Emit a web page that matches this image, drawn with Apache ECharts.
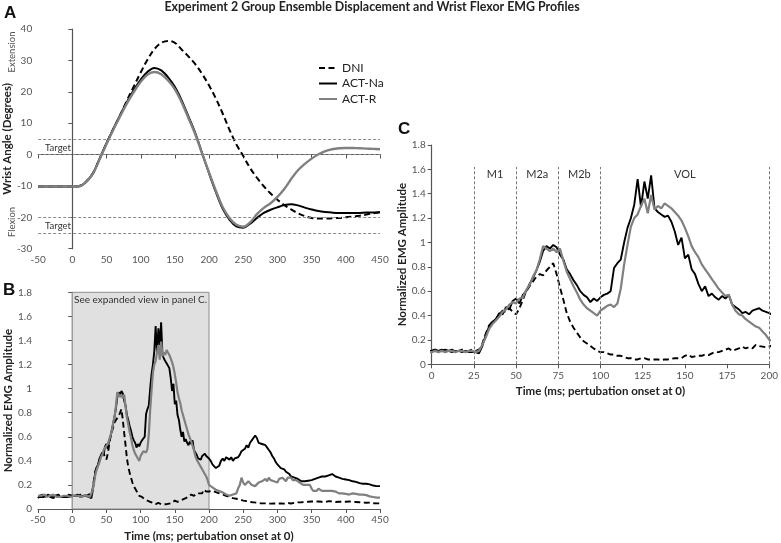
<!DOCTYPE html>
<html><head><meta charset="utf-8">
<script src="https://cdn.jsdelivr.net/npm/echarts@6/dist/echarts.min.js"></script>
<style>html,body{margin:0;padding:0;background:#fff}#c{width:781px;height:543px}</style>
</head><body><div id="c"></div>
<script>
// ---------- Panel A: wrist angle (degrees), t = -50..450 step 10 ----------
const angleStart = -50, angleStep = 10;
const angleDNI = [-10.2,-10.2,-10.2,-10.2,-10.2,-10.2,-10.0,-8.7,-6.0,-1.2,
  3.6,8.2,12.6,17.3,21.8,26.2,30.3,33.6,35.6,36.2,
  35.6,33.4,31.2,28.7,25.6,22.0,17.8,13.0,7.8,3.2,
  -0.5,-4.3,-7.4,-10.1,-12.4,-14.4,-16.1,-17.5,-18.7,-19.6,
  -20.2,-20.4,-20.4,-20.3,-20.2,-20.0,-19.8,-19.5,-19.1,-18.7,-18.4];
const angleNa = [-10.2,-10.2,-10.2,-10.2,-10.2,-10.2,-10.1,-8.7,-6.0,-1.2,
  3.6,8.2,12.6,16.8,20.6,23.9,26.4,27.6,26.8,24.6,
  21.5,17.2,12.0,6.7,0.3,-6.0,-12.0,-17.3,-20.8,-22.9,
  -23.3,-22.0,-20.2,-18.6,-17.6,-16.8,-16.1,-15.8,-16.2,-16.9,
  -17.5,-18.0,-18.3,-18.5,-18.6,-18.6,-18.6,-18.6,-18.5,-18.5,-18.4];
const angleR = [-10.2,-10.2,-10.2,-10.2,-10.2,-10.2,-10.1,-8.8,-6.1,-1.4,
  3.4,8.0,12.3,16.4,20.0,23.2,25.5,26.3,25.6,23.6,
  20.8,16.6,11.5,6.3,0.2,-5.8,-11.6,-16.8,-20.3,-22.4,
  -23.0,-21.6,-19.0,-17.0,-15.5,-13.5,-11.0,-7.8,-5.0,-3.0,
  -1.3,0.1,1.1,1.7,2.0,2.1,2.1,2.0,1.9,1.8,1.7];
const angleRefLines = [5, 0, -20, -25];
const targetLabels = [2.2, -22.7];

// ---------- EMG (normalized) ----------
// pre: t=-50..-2.5 step 2.5 ; early: t=0..200 step 2 ; late: t=202.5..450 step 2.5
const preDNI = [0.10,0.11,0.10,0.11,0.10,0.11,0.11,0.10,0.11,0.10,0.11,0.10,0.10,0.11,0.10,0.11,0.10,0.11,0.10,0.11];
const preNa  = [0.09,0.11,0.10,0.12,0.10,0.11,0.12,0.10,0.11,0.09,0.11,0.10,0.12,0.10,0.11,0.10,0.11,0.10,0.12,0.11];
const preR   = [0.11,0.10,0.11,0.11,0.12,0.10,0.11,0.11,0.10,0.12,0.11,0.10,0.11,0.10,0.11,0.11,0.10,0.11,0.11,0.10];

const earlyNa = [0.11,0.12,0.11,0.11,0.12,0.11,0.10,0.11,0.11,0.10,
  0.11,0.10,0.10,0.10,0.09,0.15,0.24,0.31,0.35,0.37,
  0.42,0.41,0.47,0.45,0.52,0.54,0.50,0.57,0.60,0.66,
  0.71,0.77,0.84,0.93,0.97,0.95,0.98,0.96,0.90,0.86,
  0.78,0.74,0.69,0.65,0.60,0.57,0.55,0.51,0.54,0.52,
  0.55,0.57,0.58,0.60,0.79,0.83,0.86,1.00,1.12,1.20,
  1.31,1.52,1.29,1.50,1.36,1.55,1.28,1.25,1.23,1.21,
  1.22,1.17,1.09,0.98,1.04,0.87,0.90,0.78,0.74,0.66,
  0.60,0.64,0.56,0.58,0.55,0.53,0.56,0.54,0.57,0.49,
  0.47,0.45,0.42,0.43,0.41,0.44,0.45,0.46,0.44,0.43,
  0.42];
const earlyR = [0.10,0.11,0.10,0.11,0.10,0.11,0.11,0.10,0.11,0.11,
  0.10,0.11,0.11,0.10,0.11,0.16,0.22,0.29,0.33,0.36,
  0.39,0.43,0.45,0.49,0.51,0.50,0.54,0.55,0.61,0.65,
  0.72,0.77,0.86,0.97,0.95,0.93,0.95,0.92,0.95,0.85,
  0.76,0.70,0.64,0.59,0.53,0.49,0.46,0.44,0.42,0.40,
  0.44,0.46,0.48,0.49,0.47,0.50,0.62,0.82,0.98,1.13,
  1.20,1.23,1.30,1.36,1.24,1.39,1.27,1.30,1.28,1.32,
  1.30,1.28,1.25,1.22,1.18,1.12,1.05,0.97,0.92,0.88,
  0.82,0.78,0.74,0.70,0.66,0.62,0.59,0.56,0.57,0.49,
  0.44,0.41,0.40,0.37,0.35,0.33,0.31,0.30,0.27,0.24,
  0.20];
const earlyDNI = [0.11,0.12,0.11,0.12,0.11,0.11,0.12,0.11,0.11,0.12,
  0.11,0.11,0.12,0.11,0.12,0.17,0.25,0.32,0.35,0.37,
  0.41,0.44,0.43,0.46,0.43,0.41,0.46,0.53,0.60,0.64,
  0.68,0.72,0.74,0.73,0.77,0.80,0.83,0.74,0.63,0.53,
  0.42,0.35,0.30,0.26,0.22,0.19,0.17,0.15,0.13,0.11,
  0.10,0.10,0.09,0.08,0.08,0.07,0.07,0.06,0.05,0.05,
  0.04,0.04,0.05,0.05,0.04,0.04,0.04,0.04,0.035,0.04,
  0.04,0.045,0.05,0.05,0.05,0.07,0.08,0.06,0.065,0.07,
  0.07,0.08,0.075,0.09,0.10,0.10,0.11,0.12,0.13,0.11,
  0.12,0.13,0.145,0.13,0.14,0.13,0.16,0.15,0.145,0.14,
  0.145];

const lateNa = [0.40,0.37,0.36,0.34,0.33,0.36,0.40,0.42,0.40,0.43,
  0.44,0.41,0.43,0.40,0.42,0.41,0.43,0.45,0.48,0.47,
  0.50,0.53,0.51,0.55,0.57,0.56,0.61,0.59,0.55,0.56,
  0.54,0.55,0.53,0.51,0.49,0.47,0.44,0.42,0.39,0.37,
  0.36,0.34,0.35,0.33,0.31,0.30,0.29,0.27,0.28,0.26,
  0.27,0.25,0.24,0.23,0.24,0.23,0.22,0.235,0.23,0.24,
  0.23,0.25,0.24,0.26,0.25,0.27,0.26,0.27,0.26,0.28,
  0.27,0.29,0.28,0.27,0.28,0.26,0.27,0.25,0.26,0.245,
  0.25,0.24,0.235,0.23,0.24,0.225,0.23,0.215,0.22,0.21,
  0.20,0.21,0.20,0.205,0.20,0.195,0.20,0.19,0.195,0.19];
const lateR = [0.19,0.18,0.17,0.16,0.155,0.15,0.14,0.137,0.13,0.12,
  0.115,0.11,0.11,0.12,0.115,0.13,0.17,0.20,0.26,0.22,
  0.20,0.21,0.23,0.22,0.20,0.21,0.19,0.20,0.22,0.21,
  0.23,0.22,0.25,0.23,0.26,0.24,0.25,0.23,0.24,0.22,
  0.25,0.24,0.26,0.25,0.23,0.26,0.25,0.26,0.24,0.25,
  0.24,0.23,0.22,0.21,0.20,0.21,0.20,0.19,0.20,0.17,
  0.15,0.16,0.15,0.17,0.16,0.15,0.16,0.15,0.16,0.15,
  0.14,0.15,0.14,0.145,0.14,0.13,0.14,0.13,0.135,0.125,
  0.13,0.12,0.125,0.13,0.12,0.125,0.115,0.12,0.125,0.12,
  0.11,0.115,0.11,0.105,0.11,0.10,0.105,0.095,0.10,0.095];
const lateDNI = [0.16,0.15,0.155,0.14,0.14,0.13,0.125,0.12,0.115,0.11,
  0.105,0.10,0.095,0.09,0.09,0.085,0.08,0.08,0.075,0.07,
  0.065,0.065,0.06,0.058,0.055,0.055,0.05,0.052,0.05,0.048,
  0.05,0.047,0.048,0.046,0.05,0.045,0.047,0.046,0.048,0.045,
  0.047,0.046,0.048,0.045,0.047,0.05,0.048,0.046,0.05,0.052,
  0.05,0.055,0.052,0.056,0.054,0.058,0.056,0.06,0.058,0.062,
  0.06,0.063,0.058,0.062,0.065,0.06,0.063,0.058,0.062,0.065,
  0.06,0.063,0.06,0.058,0.062,0.06,0.057,0.06,0.062,0.06,
  0.058,0.062,0.057,0.06,0.055,0.058,0.054,0.056,0.055,0.053,
  0.055,0.052,0.05,0.053,0.05,0.048,0.05,0.047,0.048,0.047];

const phaseBounds = [25, 50, 75, 100, 200];
const phaseNames = ['M1', 'M2a', 'M2b', 'VOL'];
const phaseCenters = [37.5, 62.5, 87.5, 150];

const seriesNames = ['DNI', 'ACT-Na', 'ACT-R'];
const titleText = 'Experiment 2 Group Ensemble Displacement and Wrist Flexor EMG Profiles';
const xName = 'Time (ms; pertubation onset at 0)';

// ---------- build ----------
function seq(start, step, n) { const a = []; for (let i = 0; i < n; i++) a.push(+(start + i * step).toFixed(3)); return a; }
function pairs(ts, vs) { return vs.map((v, i) => [ts[i], v]); }
const angleT = seq(angleStart, angleStep, angleDNI.length);
const preT = seq(-50, 2.5, preDNI.length);
const earlyT = seq(0, 2, earlyDNI.length);
const lateT = seq(202.5, 2.5, lateDNI.length);
function emg(pre, early, late) { return pairs(preT, pre).concat(pairs(earlyT, early), pairs(lateT, late)); }
const emgDNI = emg(preDNI, earlyDNI, lateDNI);
const emgNa = emg(preNa, earlyNa, lateNa);
const emgR = emg(preR, earlyR, lateR);

const FONT = 'Lato';
const styles = [
  { color: '#000', width: 2, type: [6, 3.5] },
  { color: '#000', width: 2, type: 'solid' },
  { color: '#808080', width: 2.4, type: 'solid' }
];
const axisLine = { show: true, lineStyle: { color: '#555', width: 1.2 } };
const axisTick = { show: true, length: 4, lineStyle: { color: '#555' } };
const axisLabel = { color: '#555', fontSize: 10, fontFamily: FONT, margin: 6 };
const axisNameStyle = { color: '#222', fontSize: 11.5, fontWeight: 'bold', fontFamily: FONT };
const emgFmt = v => String(Math.round(v * 10) / 10);

function xAx(grid, min, max, interval, name) {
  return { gridIndex: grid, type: 'value', min, max, interval, axisLine, axisTick, splitLine: { show: false },
    axisLabel: Object.assign({}, axisLabel),
    name: name || '', nameLocation: 'middle', nameGap: 21, nameTextStyle: axisNameStyle };
}
function yAx(grid, min, max, interval, name, gap, fmt) {
  return { gridIndex: grid, type: 'value', min, max, interval, axisLine, axisTick, splitLine: { show: false },
    axisLabel: Object.assign({}, axisLabel, fmt ? { formatter: fmt } : {}),
    name, nameLocation: 'middle', nameGap: gap, nameTextStyle: axisNameStyle };
}

const series = [];
// Panel A
[angleDNI, angleNa, angleR].forEach((vals, i) => {
  const s = { name: seriesNames[i], type: 'line', xAxisIndex: 0, yAxisIndex: 0, data: pairs(angleT, vals),
    symbol: 'none', smooth: 0.35, lineStyle: styles[i], itemStyle: { color: styles[i].color }, z: 3 };
  if (i === 0) {
    s.markLine = { silent: true, symbol: 'none', label: { show: false },
      lineStyle: { color: '#8a8a8a', type: [3, 2], width: 1 },
      data: angleRefLines.map(v => ({ yAxis: v })) };
    s.markPoint = { silent: true, symbol: 'circle', symbolSize: 0,
      label: { show: true, position: 'right', distance: 0, formatter: 'Target', color: '#333', fontSize: 9.5, fontFamily: FONT },
      data: targetLabels.map(v => ({ coord: [-40, v], value: 'Target' })) };
  }
  series.push(s);
});
// Panel B background area
series.push({ type: 'line', xAxisIndex: 1, yAxisIndex: 1, data: [], z: 1, silent: true,
  markArea: { silent: true, itemStyle: { color: '#e0e0e0', borderColor: '#8c8c8c', borderWidth: 1 },
    label: { show: true, position: 'insideTop', distance: 3, color: '#333', fontSize: 10, fontFamily: FONT },
    data: [[{ name: 'See expanded view in panel C.', coord: [0, 0] }, { coord: [200, 1.8] }]] } });
// Panel B and C EMG
[1, 2].forEach(g => {
  [emgDNI, emgNa, emgR].forEach((d, i) => {
    const s = { name: seriesNames[i], type: 'line', xAxisIndex: g, yAxisIndex: g, data: d, symbol: 'none',
      lineStyle: Object.assign({}, styles[i], { width: i === 2 ? 2.2 : 1.9 }), itemStyle: { color: styles[i].color }, z: 3 };
    if (g === 2 && i === 0) {
      s.markLine = { silent: true, symbol: 'none', label: { show: false },
        lineStyle: { color: '#777', type: [3, 2], width: 1 },
        data: phaseBounds.map(x => [{ coord: [x, 0] }, { coord: [x, 1.62] }]) };
      s.markPoint = { silent: true, symbol: 'circle', symbolSize: 0,
        label: { show: true, position: 'inside', color: '#333', fontSize: 11, fontFamily: FONT, formatter: p => p.name },
        data: phaseNames.map((n, k) => ({ name: n, coord: [phaseCenters[k], 1.56] })) };
    }
    series.push(s);
  });
});

const chart = echarts.init(document.getElementById('c'), null, { renderer: 'canvas' });
chart.setOption({
  animation: false,
  backgroundColor: '#fff',
  textStyle: { fontFamily: FONT },
  grid: [
    { left: 38, top: 29, width: 342, height: 219.7 },
    { left: 38, top: 292.3, width: 342, height: 219.4 },
    { left: 431.7, top: 145, width: 342.3, height: 219.3 }
  ],
  xAxis: [xAx(0, -50, 450, 50), xAx(1, -50, 450, 50, xName), xAx(2, 0, 200, 25, xName)],
  yAxis: [
    yAx(0, -30, 40, 10, 'Wrist Angle (Degrees)', 21),
    yAx(1, 0, 1.8, 0.2, 'Normalized EMG Amplitude', 24, emgFmt),
    yAx(2, 0, 1.8, 0.2, 'Normalized EMG Amplitude', 18, emgFmt)
  ],
  legend: { data: seriesNames, orient: 'vertical', left: 313, top: 57, itemWidth: 18, itemHeight: 10, itemGap: 3.5,
    itemStyle: { opacity: 0 },
    textStyle: { color: '#222', fontSize: 12, fontFamily: FONT }, selectedMode: false },
  graphic: [
    { type: 'text', x: 372, y: 1, style: { text: titleText, font: 'bold 12.4px Lato', fill: '#222', align: 'center' } },
    { type: 'text', left: 4, top: 5, style: { text: 'A', font: 'bold 17px Liberation Sans', fill: '#111' } },
    { type: 'text', left: 3, top: 282, style: { text: 'B', font: 'bold 17px Liberation Sans', fill: '#111' } },
    { type: 'text', left: 398, top: 121, style: { text: 'C', font: 'bold 17px Liberation Sans', fill: '#111' } },
    { type: 'text', x: 12, y: 52, rotation: Math.PI / 2, style: { text: 'Extension', font: '9.5px Lato', fill: '#555', align: 'center', verticalAlign: 'middle' } },
    { type: 'text', x: 12, y: 222, rotation: Math.PI / 2, style: { text: 'Flexion', font: '9.5px Lato', fill: '#555', align: 'center', verticalAlign: 'middle' } }
  ],
  series
});
</script></body></html>
